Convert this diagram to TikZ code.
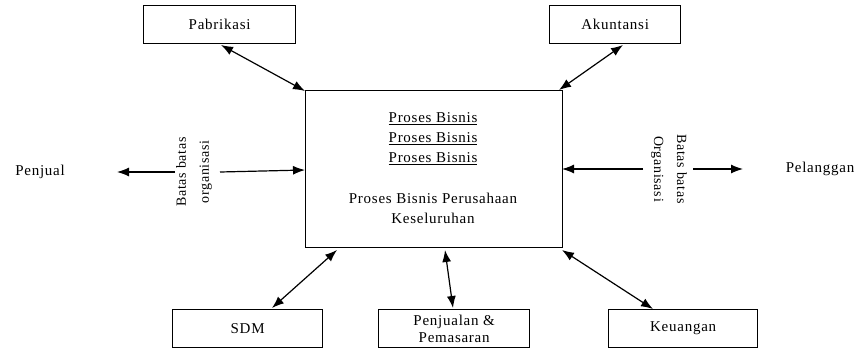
\documentclass[tikz,border=0pt]{standalone}
\usepackage{fontspec}
\setmainfont{Liberation Serif}[LetterSpace=5]
\usetikzlibrary{arrows.meta}
\begin{document}
\begin{tikzpicture}[x=1pt,y=-1pt,
  box/.style={draw,line width=1.3pt,minimum width=#1,minimum height=38pt,inner sep=0pt,font=\fontsize{15}{17}\selectfont,anchor=north west},
  box/.default=151pt,
  lbl/.style={font=\fontsize{15}{17}\selectfont,inner sep=0pt},
  vlbl/.style={font=\fontsize{14}{23}\selectfont,align=center,inner sep=0pt},
  con/.style={line width=1.2pt,{Latex[length=12pt,width=9pt]}-{Latex[length=12pt,width=9pt]}},
  one/.style={line width=1.2pt,-{Latex[length=12pt,width=9pt]}}]
\useasboundingbox (0,0) rectangle (861,351);
\node[box=152pt] (pab) at (143,5) {Pabrikasi};
\node[box=131pt] (aku) at (549,5) {Akuntansi};
\node[box=150pt] (sdm) at (172,309) {SDM};
\node[box=151pt,align=center,font=\fontsize{15}{18}\selectfont] (pen) at (378,309) {Penjualan \&\\[-1pt]Pemasaran};
\node[box=149pt] (keu) at (608,309) {Keuangan};
\node[draw,line width=1.3pt,minimum width=257pt,minimum height=157pt,anchor=north west,inner sep=0pt] (main) at (305,90) {};
\node[lbl,align=center,font=\fontsize{15}{20}\selectfont] (mt) at (433,139) {\underline{Proses Bisnis}\\\underline{Proses Bisnis}\\\underline{Proses Bisnis}};
\node[lbl,align=center,font=\fontsize{15}{20}\selectfont] (mb) at (433,208) {Proses Bisnis Perusahaan\\Keseluruhan};
\node[lbl] (pj) at (40,172) {Penjual};
\node[lbl] (pl) at (820,169) {Pelanggan};
\node[vlbl,rotate=90] (bl) at (194,172) {Batas batas\\organisasi};
\node[vlbl,rotate=-90] (br) at (669,169) {Batas batas\\Organisasi};
\coordinate (pjt) at (117,172);
\coordinate (plt) at (743,169);
\coordinate (bls) at (175,172);
\draw[con] (221,45) -- (305,91);
\draw[con] (623,45) -- (559,90);
\draw[con] (272,308) -- (337,250);
\draw[con] (445,250) -- (453,308);
\draw[con] (562,250) -- (653,309);
\draw[one] (bls) -- (pjt);
\draw[one] (220,172) -- (305,170);
\draw[one] (643,169) -- (562,169);
\draw[one] (693,169) -- (plt);
\end{tikzpicture}
\end{document}
